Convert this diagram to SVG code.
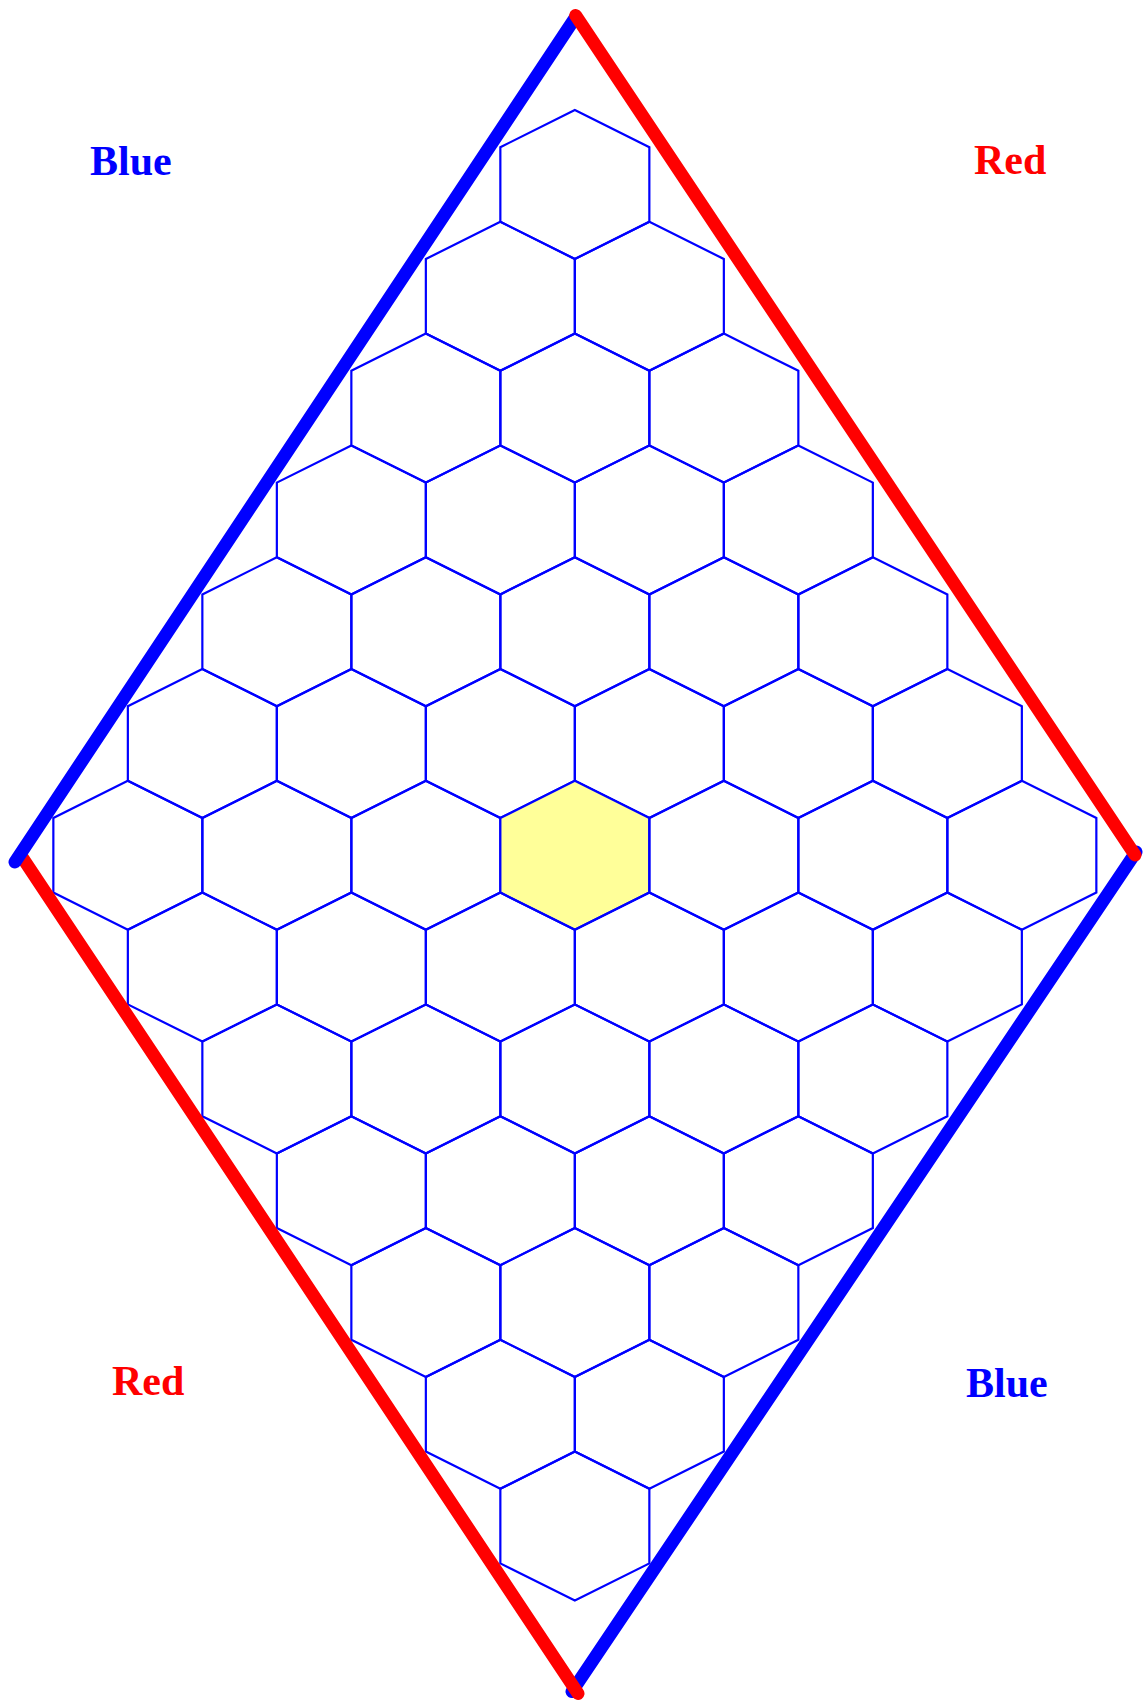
<svg xmlns="http://www.w3.org/2000/svg" xmlns:xlink="http://www.w3.org/1999/xlink" width="1143" height="1701" viewBox="0 0 1143 1701">
<style>
.hex{fill:none;stroke:#0000ff;stroke-width:2.2;stroke-linejoin:miter}
.hl{fill:#ffff99}
.edge{fill:none;stroke-width:13;stroke-linecap:round}
.blue{stroke:#0000ff}
.red{stroke:#ff0000}
.lbl{font-family:"Liberation Serif","Times New Roman",serif;font-weight:bold;font-size:42px}
</style>
<defs>
<polygon id="hx" points="0,-74.5 74.5,-37.3 74.5,37.3 0,74.5 -74.5,37.3 -74.5,-37.3"/>
</defs>
<rect width="1143" height="1701" fill="#ffffff"/>
<g id="cells">
<g id="c0-0"><use xlink:href="#hx" class="hex" x="574.85" y="184.5"/></g>
<g id="c1-0"><use xlink:href="#hx" class="hex" x="500.35" y="296.3"/></g>
<g id="c0-1"><use xlink:href="#hx" class="hex" x="649.35" y="296.3"/></g>
<g id="c2-0"><use xlink:href="#hx" class="hex" x="425.85" y="408.1"/></g>
<g id="c1-1"><use xlink:href="#hx" class="hex" x="574.85" y="408.1"/></g>
<g id="c0-2"><use xlink:href="#hx" class="hex" x="723.85" y="408.1"/></g>
<g id="c3-0"><use xlink:href="#hx" class="hex" x="351.35" y="519.9"/></g>
<g id="c2-1"><use xlink:href="#hx" class="hex" x="500.35" y="519.9"/></g>
<g id="c1-2"><use xlink:href="#hx" class="hex" x="649.35" y="519.9"/></g>
<g id="c0-3"><use xlink:href="#hx" class="hex" x="798.35" y="519.9"/></g>
<g id="c4-0"><use xlink:href="#hx" class="hex" x="276.85" y="631.7"/></g>
<g id="c3-1"><use xlink:href="#hx" class="hex" x="425.85" y="631.7"/></g>
<g id="c2-2"><use xlink:href="#hx" class="hex" x="574.85" y="631.7"/></g>
<g id="c1-3"><use xlink:href="#hx" class="hex" x="723.85" y="631.7"/></g>
<g id="c0-4"><use xlink:href="#hx" class="hex" x="872.85" y="631.7"/></g>
<g id="c5-0"><use xlink:href="#hx" class="hex" x="202.35" y="743.5"/></g>
<g id="c4-1"><use xlink:href="#hx" class="hex" x="351.35" y="743.5"/></g>
<g id="c3-2"><use xlink:href="#hx" class="hex" x="500.35" y="743.5"/></g>
<g id="c2-3"><use xlink:href="#hx" class="hex" x="649.35" y="743.5"/></g>
<g id="c1-4"><use xlink:href="#hx" class="hex" x="798.35" y="743.5"/></g>
<g id="c0-5"><use xlink:href="#hx" class="hex" x="947.35" y="743.5"/></g>
<g id="c6-0"><use xlink:href="#hx" class="hex" x="127.85" y="855.3"/></g>
<g id="c5-1"><use xlink:href="#hx" class="hex" x="276.85" y="855.3"/></g>
<g id="c4-2"><use xlink:href="#hx" class="hex" x="425.85" y="855.3"/></g>
<g id="c3-3"><use xlink:href="#hx" class="hex hl" x="574.85" y="855.3"/></g>
<g id="c2-4"><use xlink:href="#hx" class="hex" x="723.85" y="855.3"/></g>
<g id="c1-5"><use xlink:href="#hx" class="hex" x="872.85" y="855.3"/></g>
<g id="c0-6"><use xlink:href="#hx" class="hex" x="1021.85" y="855.3"/></g>
<g id="c6-1"><use xlink:href="#hx" class="hex" x="202.35" y="967.1"/></g>
<g id="c5-2"><use xlink:href="#hx" class="hex" x="351.35" y="967.1"/></g>
<g id="c4-3"><use xlink:href="#hx" class="hex" x="500.35" y="967.1"/></g>
<g id="c3-4"><use xlink:href="#hx" class="hex" x="649.35" y="967.1"/></g>
<g id="c2-5"><use xlink:href="#hx" class="hex" x="798.35" y="967.1"/></g>
<g id="c1-6"><use xlink:href="#hx" class="hex" x="947.35" y="967.1"/></g>
<g id="c6-2"><use xlink:href="#hx" class="hex" x="276.85" y="1078.9"/></g>
<g id="c5-3"><use xlink:href="#hx" class="hex" x="425.85" y="1078.9"/></g>
<g id="c4-4"><use xlink:href="#hx" class="hex" x="574.85" y="1078.9"/></g>
<g id="c3-5"><use xlink:href="#hx" class="hex" x="723.85" y="1078.9"/></g>
<g id="c2-6"><use xlink:href="#hx" class="hex" x="872.85" y="1078.9"/></g>
<g id="c6-3"><use xlink:href="#hx" class="hex" x="351.35" y="1190.7"/></g>
<g id="c5-4"><use xlink:href="#hx" class="hex" x="500.35" y="1190.7"/></g>
<g id="c4-5"><use xlink:href="#hx" class="hex" x="649.35" y="1190.7"/></g>
<g id="c3-6"><use xlink:href="#hx" class="hex" x="798.35" y="1190.7"/></g>
<g id="c6-4"><use xlink:href="#hx" class="hex" x="425.85" y="1302.5"/></g>
<g id="c5-5"><use xlink:href="#hx" class="hex" x="574.85" y="1302.5"/></g>
<g id="c4-6"><use xlink:href="#hx" class="hex" x="723.85" y="1302.5"/></g>
<g id="c6-5"><use xlink:href="#hx" class="hex" x="500.35" y="1414.3"/></g>
<g id="c5-6"><use xlink:href="#hx" class="hex" x="649.35" y="1414.3"/></g>
<g id="c6-6"><use xlink:href="#hx" class="hex" x="574.85" y="1526.1"/></g>
</g>
<g id="connectors">
<line class="edge blue" x1="1136" y1="852" x2="572" y2="1691.5"/>
<line class="edge red" x1="22" y1="857" x2="578" y2="1693.5"/>
<line class="edge blue" x1="575" y1="18" x2="15" y2="862"/>
<line class="edge red" x1="575.7" y1="15.5" x2="1135" y2="855"/>
</g>
<g id="labels">
<text class="lbl" x="90" y="175" fill="#0000ff">Blue</text>
<text class="lbl" x="974" y="174" fill="#ff0000">Red</text>
<text class="lbl" x="112" y="1395" fill="#ff0000">Red</text>
<text class="lbl" x="966" y="1397" fill="#0000ff">Blue</text>
</g>
</svg>
